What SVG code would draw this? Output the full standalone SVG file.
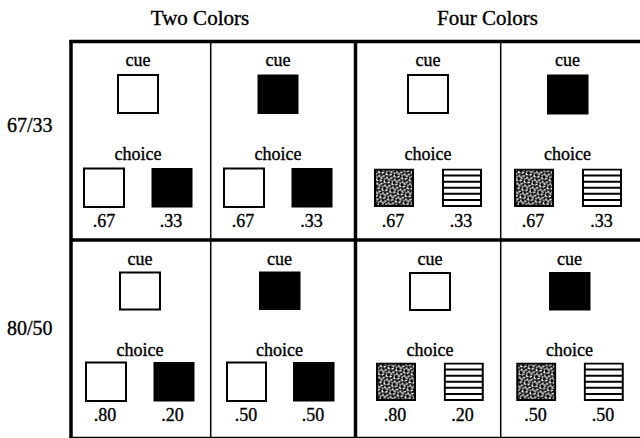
<svg xmlns="http://www.w3.org/2000/svg" width="640" height="438" viewBox="0 0 640 438">
<style>
text{font-family:"Liberation Serif","Times New Roman",serif;fill:#000;stroke:#000;stroke-width:0.35;text-anchor:middle}
.hdr{font-size:21px}
.row{font-size:20px;text-anchor:start}
.lbl{font-size:18px}
.num{font-size:18px}
.w{fill:#fff;stroke:#000;stroke-width:2}
.b{fill:#000;stroke:#000;stroke-width:1}
.thick{stroke:#000;stroke-width:3.5;fill:none}
.thin{stroke:#000;stroke-width:1.5;fill:none}
</style>
<defs>
<pattern id="dots" width="8" height="8" patternUnits="userSpaceOnUse" patternTransform="rotate(15)">
<rect width="8" height="8" fill="#000"/>
<path d="M0.6 0.8h2.4v1.2h-1.2v1.2h-1.2z" fill="#fff"/>
<path d="M4.6 0.4h1.4v1.6h1.4v1.3h-2.8z" fill="#fff"/>
<path d="M2.4 3.8h2.2v1.2h-1v1.2h-1.2z" fill="#fff"/>
<path d="M6.2 4.6h1.6v2.2h-1.6z" fill="#fff"/>
<path d="M0.4 5.6h1.3v1.2h1.3v1h-2.6z" fill="#fff"/>
<path d="M4.2 6.6h1.8v1.2h-1.8z" fill="#fff"/>
</pattern>
<symbol id="stipple" viewBox="0 0 40 38.5">
<rect x="1" y="1" width="38" height="36.5" fill="url(#dots)" stroke="#000" stroke-width="2"/>
</symbol>
<symbol id="stripe" viewBox="0 0 40 38.5">
<rect x="1" y="1" width="38" height="36.5" fill="#fff" stroke="#000" stroke-width="2"/>
<g stroke="#000" stroke-width="2">
<line x1="1" y1="7.1" x2="39" y2="7.1"/>
<line x1="1" y1="13.2" x2="39" y2="13.2"/>
<line x1="1" y1="19.25" x2="39" y2="19.25"/>
<line x1="1" y1="25.3" x2="39" y2="25.3"/>
<line x1="1" y1="31.4" x2="39" y2="31.4"/>
</g>
</symbol>
</defs>
<rect width="640" height="438" fill="#fff"/>

<g id="headers">
<text class="hdr" x="200" y="25">Two Colors</text>
<text class="hdr" x="487.5" y="25">Four Colors</text>
<text class="row" x="7" y="132">67/33</text>
<text class="row" x="7" y="335">80/50</text>
</g>

<g id="grid">
<line class="thick" x1="69.5" y1="41.5" x2="640" y2="41.5"/>
<line class="thick" x1="71" y1="40" x2="71" y2="440"/>
<line class="thick" x1="355.5" y1="40" x2="355.5" y2="440"/>
<line class="thick" x1="71" y1="240" x2="640" y2="240"/>
<line class="thick" x1="69.5" y1="438.5" x2="640" y2="438.5"/>
<line class="thin" x1="210.7" y1="41.5" x2="210.7" y2="440"/>
<line class="thin" x1="500.7" y1="41.5" x2="500.7" y2="440"/>
</g>

<g id="cell-r1-c1">
<text class="lbl" x="138" y="66">cue</text>
<rect class="w" x="118" y="75" width="40" height="38"/>
<text class="lbl" x="138" y="160">choice</text>
<rect class="w" x="84" y="168.5" width="40" height="38.5"/>
<rect class="b" x="152" y="168.5" width="40" height="38.5"/>
<text class="num" x="104" y="227">.67</text>
<text class="num" x="171" y="227">.33</text>
</g>

<g id="cell-r1-c2">
<text class="lbl" x="278" y="66">cue</text>
<rect class="b" x="258" y="75" width="40" height="38.5"/>
<text class="lbl" x="278" y="160">choice</text>
<rect class="w" x="224" y="168.5" width="40" height="38.5"/>
<rect class="b" x="292" y="168.5" width="40" height="38.5"/>
<text class="num" x="243" y="227">.67</text>
<text class="num" x="311.5" y="227">.33</text>
</g>

<g id="cell-r1-c3">
<text class="lbl" x="428" y="66">cue</text>
<rect class="w" x="408" y="75" width="40" height="38"/>
<text class="lbl" x="428" y="160">choice</text>
<use href="#stipple" x="374" y="168.5" width="40" height="38.5"/>
<use href="#stripe" x="442" y="168.5" width="40" height="38.5"/>
<text class="num" x="393" y="227">.67</text>
<text class="num" x="461" y="227">.33</text>
</g>

<g id="cell-r1-c4">
<text class="lbl" x="567.5" y="66">cue</text>
<rect class="b" x="547.5" y="75" width="40.5" height="39"/>
<text class="lbl" x="567.5" y="160">choice</text>
<use href="#stipple" x="514" y="168.5" width="40" height="38.5"/>
<use href="#stripe" x="582" y="168.5" width="40" height="38.5"/>
<text class="num" x="533" y="227">.67</text>
<text class="num" x="601.5" y="227">.33</text>
</g>

<g id="cell-r2-c1">
<text class="lbl" x="140" y="264.5">cue</text>
<rect class="w" x="120" y="272.5" width="40" height="37"/>
<text class="lbl" x="140" y="355.5">choice</text>
<rect class="w" x="86" y="362.5" width="40" height="38.5"/>
<rect class="b" x="154" y="362.5" width="40" height="38.5"/>
<text class="num" x="105" y="421">.80</text>
<text class="num" x="172.5" y="421">.20</text>
</g>

<g id="cell-r2-c2">
<text class="lbl" x="279.5" y="264.5">cue</text>
<rect class="b" x="259.5" y="272" width="40.5" height="37.5"/>
<text class="lbl" x="279.5" y="355.5">choice</text>
<rect class="w" x="227" y="362.5" width="39" height="38.5"/>
<rect class="b" x="293.5" y="362.5" width="40.5" height="38.5"/>
<text class="num" x="246" y="421">.50</text>
<text class="num" x="313" y="421">.50</text>
</g>

<g id="cell-r2-c3">
<text class="lbl" x="430" y="264.5">cue</text>
<rect class="w" x="410" y="273" width="40" height="37"/>
<text class="lbl" x="430" y="355.5">choice</text>
<use href="#stipple" x="376" y="362.5" width="40" height="38.5"/>
<use href="#stripe" x="443.5" y="362.5" width="40.5" height="38.5"/>
<text class="num" x="395" y="421">.80</text>
<text class="num" x="462.5" y="421">.20</text>
</g>

<g id="cell-r2-c4">
<text class="lbl" x="569.5" y="264.5">cue</text>
<rect class="b" x="549.5" y="272.5" width="40.5" height="37.5"/>
<text class="lbl" x="569.5" y="355.5">choice</text>
<use href="#stipple" x="516" y="362.5" width="40.5" height="38.5"/>
<use href="#stripe" x="583.5" y="362.5" width="40.5" height="38.5"/>
<text class="num" x="535.5" y="421">.50</text>
<text class="num" x="603" y="421">.50</text>
</g>
</svg>
